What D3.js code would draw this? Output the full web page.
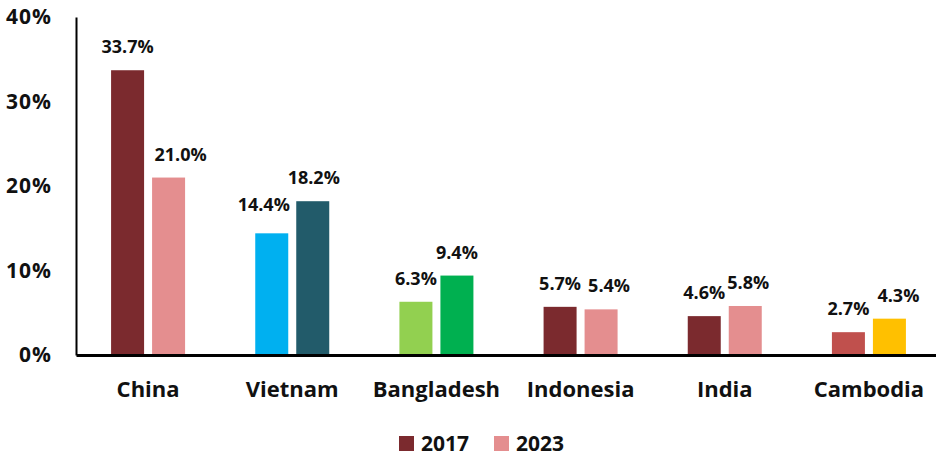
<!DOCTYPE html>
<html>
<head>
<meta charset="utf-8">
<script src="https://cdn.jsdelivr.net/npm/d3@7"></script>
<style>
  html, body { margin: 0; padding: 0; background: #fff; }
  svg { display: block; font-family: "Open Sans", sans-serif; font-weight: 700; }
</style>
</head>
<body>
<svg id="chart" width="936" height="458"></svg>
<script>
const categories = ["China", "Vietnam", "Bangladesh", "Indonesia", "India", "Cambodia"];
const series = ["2017", "2023"];
const values2017 = [33.7, 14.4, 6.3, 5.7, 4.6, 2.7];
const values2023 = [21.0, 18.2, 9.4, 5.4, 5.8, 4.3];
const yTicks = [0, 10, 20, 30, 40];
const colors2017 = ["#7B2A2E", "#00B0F0", "#92D050", "#7B2A2E", "#7B2A2E", "#C0504D"];
const colors2023 = ["#E48E8F", "#225B6A", "#00B050", "#E48E8F", "#E48E8F", "#FFC000"];
const legendColors = ["#7B2A2E", "#E48E8F"];
// small nudges of value labels (px)
const labelDx2017 = [0, -8, 0, 0, 0, 0];
const labelDx2023 = [12, 1, 0, 8, 3, 9];
const labelDy2017 = [0, -5, 0, 0, 0, 0];

const svg = d3.select("#chart");
const x0 = d3.scaleBand().domain(categories).range([76, 941]).paddingInner(0).paddingOuter(0);
const y = d3.scaleLinear().domain([0, 40]).range([355, 17]);
const barW = 33, gap = 8;

const rows = [];
categories.forEach((c, i) => {
  rows.push({ c, s: 0, v: values2017[i], col: colors2017[i], dx: labelDx2017[i], dy: labelDy2017[i] });
  rows.push({ c, s: 1, v: values2023[i], col: colors2023[i], dx: labelDx2023[i], dy: 0 });
});
const bx = d => x0(d.c) + x0.bandwidth() / 2 + (d.s === 0 ? -(gap / 2 + barW) : gap / 2);

svg.append("g").selectAll("rect").data(rows).join("rect")
  .attr("x", bx)
  .attr("y", d => y(d.v))
  .attr("width", barW)
  .attr("height", d => y(0) - y(d.v))
  .attr("fill", d => d.col);

svg.append("g").selectAll("text").data(rows).join("text")
  .attr("x", d => bx(d) + barW / 2 + d.dx)
  .attr("y", d => y(d.v) - 17 + d.dy)
  .attr("text-anchor", "middle")
  .attr("font-size", 18)
  .attr("fill", "#111")
  .text(d => d.v.toFixed(1) + "%");

// Y axis
const yAxis = d3.axisLeft(y).tickValues(yTicks).tickFormat(d => d + "%").tickSize(0).tickPadding(24);
const gy = svg.append("g").attr("transform", "translate(76,0)").call(yAxis);
gy.select(".domain").attr("stroke", "#000").attr("stroke-width", 2);
gy.selectAll("text").attr("font-size", 21).attr("font-family", "Open Sans").attr("font-weight", 700)
  .attr("fill", "#111").style("letter-spacing", "1px");

// X axis
const xAxis = d3.axisBottom(x0).tickSize(0).tickPadding(26);
const gx = svg.append("g").attr("transform", "translate(0,355)").call(xAxis);
gx.select(".domain").attr("stroke", "#000").attr("stroke-width", 3);
gx.selectAll("text").attr("font-size", 22).attr("font-family", "Open Sans").attr("font-weight", 700).attr("fill", "#111");

// Legend
const legendX = [399, 494];
const lg = svg.append("g");
series.forEach((s, i) => {
  lg.append("rect").attr("x", legendX[i]).attr("y", 436).attr("width", 15).attr("height", 15).attr("fill", legendColors[i]);
  lg.append("text").attr("x", legendX[i] + 22).attr("y", 451).attr("font-size", 21).attr("fill", "#111").text(s);
});
</script>
</body>
</html>
